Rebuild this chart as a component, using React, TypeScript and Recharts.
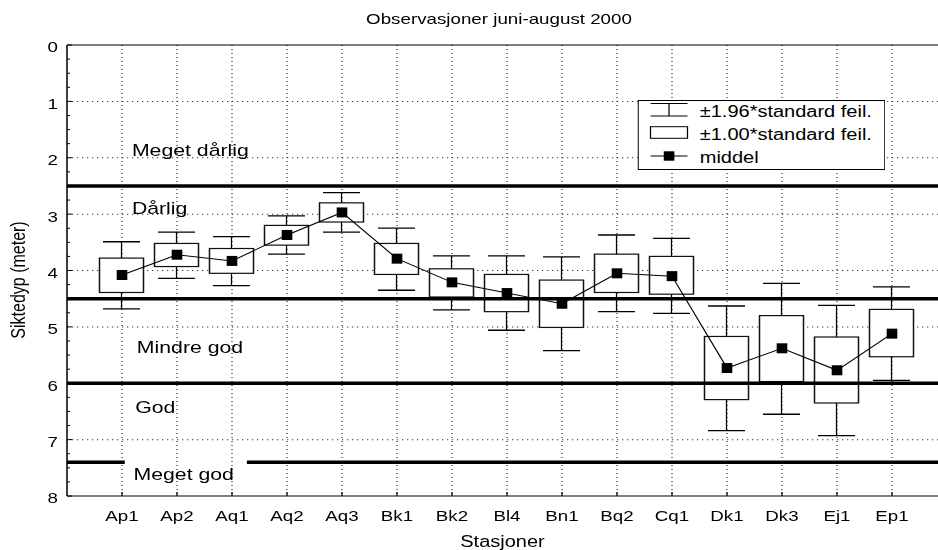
import React from "react";
import {
  ComposedChart,
  Bar,
  Line,
  XAxis,
  YAxis,
  CartesianGrid,
  ReferenceLine,
  ReferenceDot,
  Legend,
} from "recharts";

const stations = ["Ap1", "Ap2", "Aq1", "Aq2", "Aq3", "Bk1", "Bk2", "Bl4", "Bn1", "Bq2", "Cq1", "Dk1", "Dk3", "Ej1", "Ep1"];
const means = [4.08, 3.72, 3.83, 3.37, 2.97, 3.79, 4.21, 4.4, 4.59, 4.05, 4.1, 5.73, 5.38, 5.77, 5.12];
const boxLow = [3.78, 3.52, 3.61, 3.2, 2.8, 3.52, 3.97, 4.07, 4.17, 3.71, 3.75, 5.17, 4.8, 5.18, 4.69];
const boxHigh = [4.39, 3.93, 4.05, 3.55, 3.14, 4.07, 4.47, 4.73, 5.01, 4.39, 4.42, 6.29, 5.97, 6.35, 5.53];
const whiskerLow = [3.49, 3.32, 3.4, 3.03, 2.62, 3.25, 3.74, 3.74, 3.76, 3.37, 3.43, 4.63, 4.23, 4.62, 4.29];
const whiskerHigh = [4.68, 4.14, 4.27, 3.71, 3.32, 4.35, 4.7, 5.06, 5.42, 4.73, 4.76, 6.84, 6.55, 6.93, 5.95];

// class limits (siktedyp i meter)
const classLimits = [2.5, 4.5, 6];
const lastLimit = 7.4;
const lastLimitGap = [1.05, 3.27];
const classNames = ["Meget dårlig", "Dårlig", "Mindre god", "God", "Meget god"];
const classLabelX = [1.18, 1.18, 1.27, 1.24, 1.21];
const classLabelY = [1.97, 2.99, 5.46, 6.53, 7.72];

const yMajorTicks = [0, 1, 2, 3, 4, 5, 6, 7, 8];
const yMinorStep = 0.25;
const xDomain = [0, 16];
const legendNames = ["±1.96*standard feil.", "±1.00*standard feil.", "middel"];

const data = stations.map((name, i) => ({
  x: i + 1,
  name,
  mean: means[i],
  blo: boxLow[i],
  bhi: boxHigh[i],
  wlo: whiskerLow[i],
  whi: whiskerHigh[i],
  whisker: [whiskerLow[i], whiskerHigh[i]],
}));

const yTicks: number[] = [];
for (let v = yMajorTicks[0]; v <= yMajorTicks[yMajorTicks.length - 1] + 1e-9; v += yMinorStep) yTicks.push(v);

const FONT = "'Liberation Sans', Arial, Helvetica, sans-serif";
const STRETCH = 1.25; // original picture is stretched horizontally
const CHART_W = 760;
const CHART_H = 550;
const Y_TICK_MARGIN = 7.2;

function BoxWhisker(props: any) {
  const { x, y, width, height, payload } = props;
  if (x == null || y == null) return null;
  const top = Math.min(y, y + height);
  const h = Math.abs(height);
  const span = payload.whi - payload.wlo;
  const ppu = span > 0 ? h / span : 0;
  const cx = x + width / 2;
  const cap = width * 0.42;
  const bTop = top + (payload.blo - payload.wlo) * ppu;
  const bBot = top + (payload.bhi - payload.wlo) * ppu;
  return (
    <g>
      <line x1={cx} x2={cx} y1={top} y2={top + h} stroke="#000" strokeWidth={1} />
      <line x1={cx - cap} x2={cx + cap} y1={top} y2={top} stroke="#000" strokeWidth={1.3} />
      <line x1={cx - cap} x2={cx + cap} y1={top + h} y2={top + h} stroke="#000" strokeWidth={1.3} />
      <rect x={x} y={bTop} width={width} height={bBot - bTop} fill="#fff" stroke="#111" strokeWidth={1.2} />
    </g>
  );
}

function MeanDot(props: any) {
  const { cx, cy } = props;
  if (cx == null || cy == null) return null;
  return <rect key={props.key} x={cx - 4.25} y={cy - 5} width={8.5} height={10} fill="#000" />;
}

function YTick(props: any) {
  const { x, y, payload } = props;
  const v = payload.value;
  const major = Number.isInteger(v);
  const axisX = x + Y_TICK_MARGIN;
  return (
    <g>
      <line x1={axisX} x2={axisX + (major ? 4 : 2.4)} y1={y} y2={y} stroke="#000" />
      {major && (
        <text x={x} y={y} dy={7.5} textAnchor="end" fontSize={15} fill="#000" fontFamily={FONT}>
          {v}
        </text>
      )}
    </g>
  );
}

function XTick(props: any) {
  const { x, y, payload } = props;
  const label = stations[payload.value - 1];
  return (
    <g>
      <line x1={x} x2={x} y1={y} y2={y - 4} stroke="#000" />
      <text x={x} y={y} dy={24.7} textAnchor="middle" fontSize={15} fill="#000" fontFamily={FONT}>
        {label}
      </text>
    </g>
  );
}

function LegendBox() {
  return (
    <svg width={198.4} height={70} style={{ display: "block" }}>
      <rect x={0.5} y={0.5} width={197.4} height={69} fill="#fff" stroke="#000" />
      <line x1={10.4} x2={40} y1={3.5} y2={3.5} stroke="#000" />
      <line x1={25.2} x2={25.2} y1={3.5} y2={16} stroke="#000" />
      <line x1={10.4} x2={40} y1={16} y2={16} stroke="#000" />
      <rect x={10.4} y={26.7} width={29.6} height={11.6} fill="#fff" stroke="#000" />
      <line x1={10.4} x2={40} y1={56} y2={56} stroke="#000" />
      <rect x={21} y={51.3} width={8.5} height={9.4} fill="#000" />
      {legendNames.map((n, i) => (
        <text key={n} x={49.8} y={17.5 + i * 23} fontSize={16} fill="#000" fontFamily={FONT}>
          {n}
        </text>
      ))}
    </svg>
  );
}

export default function App() {
  return (
    <div
      style={{
        position: "absolute",
        left: 0,
        top: 0,
        width: 938,
        height: 550,
        overflow: "hidden",
        background: "#fff",
        fontFamily: FONT,
      }}
    >
      <div
        style={{
          position: "relative",
          width: CHART_W,
          height: CHART_H,
          transform: `scaleX(${STRETCH})`,
          transformOrigin: "0 0",
        }}
      >
        <div
          style={{
            position: "absolute",
            left: 0,
            top: 10,
            width: 798.4,
            textAlign: "center",
            fontSize: 15,
            lineHeight: "18px",
            color: "#000",
          }}
        >
          Observasjoner juni-august 2000
        </div>
        <ComposedChart width={CHART_W} height={CHART_H} data={data} margin={{ top: 45, right: 2.4, bottom: 0, left: 0 }}>
          <CartesianGrid
            stroke="#333"
            strokeDasharray="1 3"
            horizontalValues={yMajorTicks.slice(1, -1)}
            verticalValues={data.map((d) => d.x)}
          />
          <XAxis
            type="number"
            dataKey="x"
            domain={xDomain}
            ticks={data.map((d) => d.x)}
            interval={0}
            allowDataOverflow
            height={54}
            tickLine={false}
            tickSize={0}
            tickMargin={0}
            tick={<XTick />}
            axisLine={{ stroke: "#000", strokeWidth: 1.2 }}
            label={{ value: "Stasjoner", position: "insideBottom", offset: 3, dx: -3.6, style: { fontSize: 16, fill: "#000" } }}
          />
          <YAxis
            type="number"
            domain={[yMajorTicks[0], yMajorTicks[yMajorTicks.length - 1]]}
            reversed
            ticks={yTicks}
            interval={0}
            width={53.6}
            tickLine={false}
            tickSize={0}
            tickMargin={Y_TICK_MARGIN}
            tick={<YTick />}
            axisLine={{ stroke: "#000", strokeWidth: 1.2 }}
            label={{ value: "Siktedyp (meter)", angle: -90, position: "center", dx: -12.4, dy: 9.5, style: { fontSize: 16, fill: "#000" } }}
          />
          <ReferenceLine y={0} stroke="#000" strokeWidth={1.2} />
          <Bar dataKey="whisker" barSize={35.2} shape={BoxWhisker} isAnimationActive={false} />
          {classLimits.map((v) => (
            <ReferenceLine key={v} y={v} stroke="#000" strokeWidth={3.5} zIndex={350} />
          ))}
          <ReferenceLine
            segment={[{ x: xDomain[0], y: lastLimit }, { x: lastLimitGap[0], y: lastLimit }]}
            stroke="#000"
            strokeWidth={3.5}
            zIndex={350}
          />
          <ReferenceLine
            segment={[{ x: lastLimitGap[1], y: lastLimit }, { x: xDomain[1], y: lastLimit }]}
            stroke="#000"
            strokeWidth={3.5}
            zIndex={350}
          />
          {classNames.map((n, i) => (
            <ReferenceDot
              key={n}
              x={classLabelX[i]}
              y={classLabelY[i]}
              r={0}
              shape={(p: any) => (
                <text x={p.cx} y={p.cy} fontSize={17} fill="#000" fontFamily={FONT}>
                  {n}
                </text>
              )}
            />
          ))}
          <Line
            dataKey="mean"
            stroke="#000"
            strokeWidth={1}
            dot={MeanDot}
            activeDot={false}
            isAnimationActive={false}
          />
          <Legend
            layout="vertical"
            align="center"
            verticalAlign="middle"
            width={198.4}
            height={70}
            wrapperStyle={{ left: 509.6, top: 100, width: 198.4, height: 70 }}
            content={() => <LegendBox />}
          />
        </ComposedChart>
      </div>
    </div>
  );
}
